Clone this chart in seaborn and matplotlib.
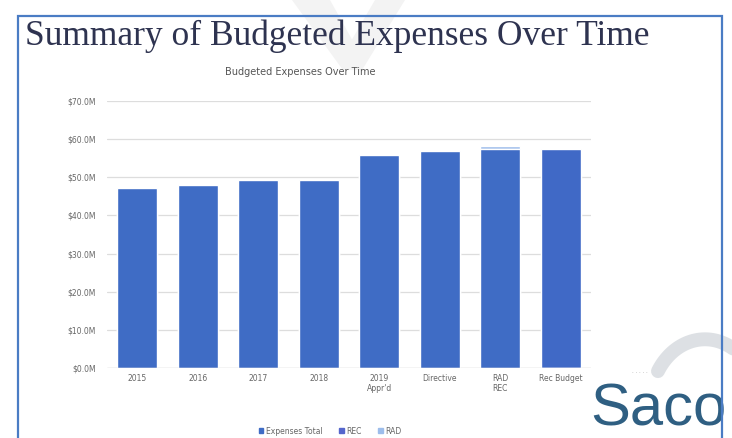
import matplotlib
matplotlib.use("Agg")
import matplotlib.pyplot as plt
import matplotlib.patches as mpatches
from matplotlib.lines import Line2D
import seaborn as sns
import pandas as pd
import numpy as np

categories = ["2015", "2016", "2017", "2018", "2019\nAppr'd", "Directive", "RAD\nREC", "Rec Budget"]
expenses_total = [47.2, 48.1, 49.2, 49.3, 55.8, 56.8, 57.5, 0.0]
rec = [0.0, 0.0, 0.0, 0.0, 0.0, 0.0, 0.0, 57.5]
rad = [0.0, 0.0, 0.0, 0.0, 0.0, 0.0, 0.8, 0.0]
yticks = [0, 10, 20, 30, 40, 50, 60, 70]
ytick_labels = ["$0.0M", "$10.0M", "$20.0M", "$30.0M", "$40.0M", "$50.0M", "$60.0M", "$70.0M"]

c_exp = "#3F6CC5"
c_rec = "#4069C6"
c_rad = "#9DBDEB"

df = pd.DataFrame({"cat": categories, "exp": expenses_total, "rec": rec, "rad": rad})
df["top_rec"] = df["exp"] + df["rec"]
df["top_rad"] = df["top_rec"] + df["rad"]

sns.set_theme(style="white")
plt.rcParams["font.family"] = ["DejaVu Sans"]

fig = plt.figure(figsize=(7.32, 4.38), dpi=100)
fig.patch.set_facecolor("white")

# faint watermark shapes
fig.add_artist(mpatches.Polygon([[292 / 732, 1.0], [330 / 732, 1.0], [352 / 732, 0.91], [375 / 732, 1.0],
                                 [405 / 732, 1.0], [362 / 732, 0.84], [343 / 732, 0.84]],
                                closed=True, transform=fig.transFigure, facecolor="#F3F3F3",
                                edgecolor="none", zorder=0))
theta = np.linspace(0.3, 2.6, 60)
fig.add_artist(Line2D(705 / 732 + 0.075 * np.cos(theta), 1 - 405 / 438 + 0.15 * np.sin(theta),
                      transform=fig.transFigure, color="#D5D9DE", linewidth=10, alpha=0.8,
                      solid_capstyle="round", zorder=0))

# border frame
fig.add_artist(mpatches.Rectangle((18 / 732, -0.01), (722 - 18) / 732, 1 - 16 / 438 + 0.01,
                                  transform=fig.transFigure, fill=False,
                                  edgecolor="#4A7CC4", linewidth=1.6, zorder=3))

fig.text(25 / 732, 1 - 36 / 438, "Summary of Budgeted Expenses Over Time",
         family="Liberation Serif", fontsize=25.5, color="#2E3350", va="center", ha="left")
fig.text(300 / 732, 1 - 72 / 438, "Budgeted Expenses Over Time",
         fontsize=7, color="#555555", va="center", ha="center")

ax = fig.add_axes([107 / 732, 1 - 368 / 438, (591 - 107) / 732, (368 - 101) / 438])
ax.set_facecolor("white")

sns.barplot(data=df, x="cat", y="top_rad", color=c_rad, ax=ax, width=0.66, saturation=1, zorder=2)
sns.barplot(data=df, x="cat", y="top_rec", color=c_rec, ax=ax, width=0.66, saturation=1, zorder=3)
sns.barplot(data=df, x="cat", y="exp", color=c_exp, ax=ax, width=0.66, saturation=1, zorder=4)

ax.set_ylim(0, 70)
ax.set_xlim(-0.5, len(categories) - 0.5)
ax.set_yticks(yticks)
ax.set_yticklabels(ytick_labels, fontsize=5.5, color="#666666")
ax.tick_params(axis="x", labelsize=5.5, colors="#666666", length=0, pad=4)
ax.tick_params(axis="y", length=0, pad=8)
for t in ax.get_xticklabels():
    t.set_color("#666666")
ax.set_xlabel("")
ax.set_ylabel("")
ax.yaxis.grid(True, color="#DDDDDD", linewidth=0.9)
ax.set_axisbelow(True)
for s in ax.spines.values():
    s.set_visible(False)
ax.axhline(0, color="#CCCCCC", linewidth=0.9, zorder=5)

handles = [mpatches.Patch(color=c_exp, label="Expenses Total"),
           mpatches.Patch(color="#5566CC", label="REC"),
           mpatches.Patch(color=c_rad, label="RAD")]
fig.legend(handles=handles, loc="center", bbox_to_anchor=(330 / 732, 1 - 431 / 438), ncol=3,
           frameon=False, fontsize=5.5, handlelength=0.6, handleheight=0.6, handletextpad=0.3,
           columnspacing=2.2, labelcolor="#666666")

fig.text(590 / 732, 1 - 410 / 438, "Saco", fontsize=43, color="#2F5F82", ha="left", va="center",
         family="Liberation Sans", zorder=2)
fig.text(640 / 732, 1 - 373 / 438, "· · · · ·", fontsize=4, color="#999999", ha="center", va="center")

fig.savefig("out.png", dpi=100, facecolor="white")
